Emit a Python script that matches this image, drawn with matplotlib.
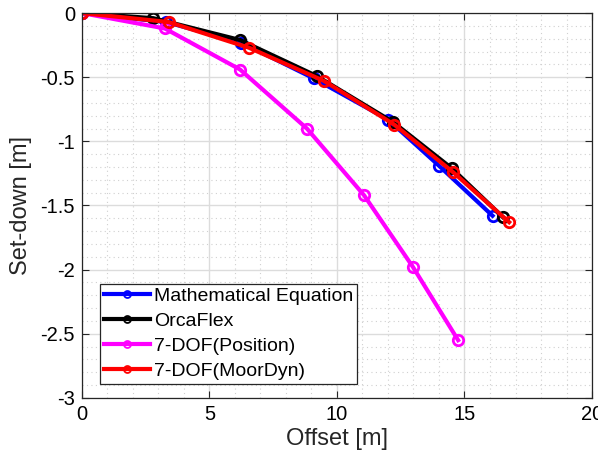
import matplotlib
matplotlib.use('Agg')
from matplotlib import pyplot as plt
from matplotlib.ticker import MultipleLocator, FuncFormatter

plt.rcParams['font.family'] = ['Liberation Sans', 'DejaVu Sans']

# Data (offset [m], set-down [m])
x_math = [0, 3.3, 6.25, 9.1, 12.0, 14.0, 16.1]
y_math = [0, -0.07, -0.23, -0.51, -0.83, -1.19, -1.58]

x_orca = [0, 2.8, 6.2, 9.2, 12.2, 14.5, 16.5]
y_orca = [0, -0.04, -0.21, -0.49, -0.85, -1.21, -1.59]

x_pos = [0, 3.25, 6.2, 8.82, 11.06, 12.98, 14.75]
y_pos = [0, -0.12, -0.44, -0.90, -1.42, -1.98, -2.55]

x_moor = [0, 3.4, 6.55, 9.5, 12.25, 14.55, 16.75]
y_moor = [0, -0.07, -0.27, -0.53, -0.87, -1.24, -1.63]

labels = ['Mathematical Equation', 'OrcaFlex', '7-DOF(Position)', '7-DOF(MoorDyn)']
colors = ['#0000ff', '#000000', '#ff00ff', '#ff0000']

fig = plt.figure(figsize=(5.98, 4.67), dpi=100)
ax = fig.add_axes([0.137, 0.148, 0.853, 0.824])

series = [(x_math, y_math), (x_orca, y_orca), (x_pos, y_pos), (x_moor, y_moor)]
for (xs, ys), lab, c in zip(series, labels, colors):
    ax.plot(xs, ys, '-o', color=c, lw=3, ms=7.5, mfc='none', mew=2, label=lab)

ax.set_xlim(0, 20)
ax.set_ylim(-3, 0)
ax.xaxis.set_major_locator(MultipleLocator(5))
ax.yaxis.set_major_locator(MultipleLocator(0.5))
ax.xaxis.set_minor_locator(MultipleLocator(1))
ax.yaxis.set_minor_locator(MultipleLocator(0.1))
ax.yaxis.set_major_formatter(FuncFormatter(lambda v, p: '{:g}'.format(round(v, 2))))
ax.grid(which='major', color='#dcdcdc', lw=1)
ax.grid(which='minor', color='#d0d0d0', lw=0.8, ls=(0, (1, 3)))
ax.set_axisbelow(True)
ax.tick_params(which='both', direction='in', top=True, right=True,
               labelsize=14.5, color='#262626', pad=5)
ax.tick_params(which='major', length=5)
ax.tick_params(which='minor', length=0)
for s in ax.spines.values():
    s.set_color('#262626')
    s.set_linewidth(0.9)

ax.set_xlabel('Offset [m]', fontsize=17, color='#262626', labelpad=3)
ax.set_ylabel('Set-down [m]', fontsize=17, color='#262626', labelpad=6)

leg = ax.legend(loc='lower left', bbox_to_anchor=(0.035, 0.036), fontsize=14,
                fancybox=False, edgecolor='#262626', framealpha=1,
                handlelength=2.4, handletextpad=0.2, borderpad=0.2,
                labelspacing=0.38, borderaxespad=0)
leg.get_frame().set_linewidth(0.9)
for h in leg.legend_handles:
    h.set_markersize(5)
    h.set_markeredgewidth(1.3)

fig.savefig('out.png', dpi=100)
